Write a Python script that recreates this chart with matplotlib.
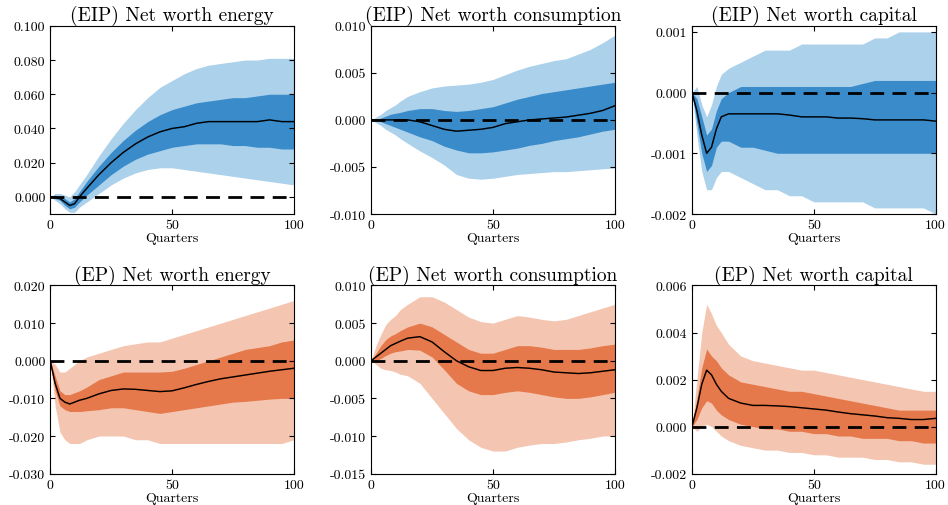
import matplotlib
matplotlib.use("Agg")
import matplotlib.pyplot as plt

plt.rcParams['font.family'] = 'serif'
plt.rcParams['font.serif'] = ['cmr10', 'DejaVu Serif']
plt.rcParams['mathtext.fontset'] = 'cm'
plt.rcParams['axes.unicode_minus'] = False

x = [0,2,4,6,8,10,12,15,20,25,30,35,40,45,50,55,60,65,70,75,80,85,90,95,100]

titles = ["(EIP) Net worth energy", "(EIP) Net worth consumption", "(EIP) Net worth capital",
          "(EP) Net worth energy", "(EP) Net worth consumption", "(EP) Net worth capital"]

p1_med = [0,0,-0.001,-0.003,-0.005,-0.004,0,0.005,0.013,0.02,0.026,0.031,0.035,0.038,0.040,0.041,0.043,0.044,0.044,0.044,0.044,0.044,0.045,0.044,0.044]
p1_ilo = [0,-0.001,-0.002,-0.005,-0.007,-0.006,-0.003,0.001,0.007,0.013,0.018,0.022,0.025,0.027,0.029,0.030,0.031,0.031,0.031,0.030,0.030,0.029,0.029,0.028,0.028]
p1_ihi = [0,0.001,0,-0.001,-0.003,-0.001,0.003,0.009,0.018,0.026,0.033,0.039,0.044,0.048,0.051,0.053,0.055,0.056,0.057,0.058,0.058,0.059,0.060,0.060,0.060]
p1_olo = [0,-0.002,-0.004,-0.007,-0.009,-0.009,-0.006,-0.003,0.002,0.007,0.011,0.014,0.016,0.017,0.017,0.016,0.015,0.014,0.013,0.012,0.011,0.010,0.009,0.008,0.007]
p1_ohi = [0,0.002,0.002,0.001,0,0.003,0.007,0.013,0.024,0.034,0.043,0.051,0.058,0.064,0.068,0.072,0.075,0.077,0.078,0.079,0.080,0.080,0.081,0.081,0.081]

p2_med = [0,0,0,0,0,0,0,0,-0.0002,-0.0006,-0.001,-0.0012,-0.0011,-0.001,-0.0008,-0.0004,-0.0002,0,0.0001,0.0002,0.0003,0.0005,0.0007,0.001,0.0015]
p2_ilo = [0,0,-0.0002,-0.0004,-0.0006,-0.0008,-0.001,-0.0013,-0.0018,-0.0022,-0.0028,-0.0032,-0.0035,-0.0035,-0.0034,-0.0032,-0.003,-0.0027,-0.0025,-0.0022,-0.002,-0.0018,-0.0015,-0.0012,-0.001]
p2_ihi = [0,0,0.0002,0.0004,0.0006,0.0007,0.0008,0.001,0.0012,0.0012,0.001,0.0009,0.001,0.0012,0.0014,0.0018,0.0022,0.0025,0.0028,0.003,0.0032,0.0034,0.0036,0.0038,0.004]
p2_olo = [0,-0.0003,-0.0006,-0.001,-0.0013,-0.0016,-0.002,-0.0025,-0.0033,-0.004,-0.0048,-0.0058,-0.0062,-0.0063,-0.0062,-0.006,-0.0058,-0.0057,-0.0056,-0.0055,-0.0055,-0.0054,-0.0053,-0.0052,-0.0051]
p2_ohi = [0,0.0003,0.0006,0.001,0.0013,0.0016,0.002,0.0025,0.003,0.0034,0.0036,0.0037,0.0038,0.004,0.0043,0.0048,0.0053,0.0057,0.006,0.0063,0.0065,0.007,0.0075,0.0082,0.009]

p3_med = [0,-0.0003,-0.0007,-0.001,-0.0009,-0.0006,-0.0004,-0.00035,-0.00035,-0.00035,-0.00035,-0.00035,-0.00037,-0.0004,-0.0004,-0.0004,-0.00042,-0.00042,-0.00043,-0.00045,-0.00045,-0.00045,-0.00045,-0.00045,-0.00047]
p3_ilo = [0,-0.0005,-0.001,-0.0013,-0.0012,-0.0009,-0.0008,-0.0008,-0.0009,-0.0009,-0.00095,-0.001,-0.001,-0.001,-0.001,-0.001,-0.001,-0.001,-0.001,-0.001,-0.001,-0.001,-0.001,-0.001,-0.001]
p3_ihi = [0,-0.0001,-0.0004,-0.0007,-0.0006,-0.0003,-0.0001,0,0.0001,0.0001,0.0001,0.0001,0.0001,0.0001,0.0001,0.0001,0.0001,0.0001,0.00015,0.0002,0.0002,0.0002,0.0002,0.0002,0.0002]
p3_olo = [0,-0.0007,-0.0013,-0.0016,-0.0016,-0.0014,-0.0013,-0.0013,-0.0014,-0.0015,-0.0016,-0.0016,-0.0017,-0.0017,-0.0018,-0.0018,-0.0018,-0.0018,-0.0018,-0.0019,-0.0019,-0.0019,-0.0019,-0.0019,-0.002]
p3_ohi = [0,0.0001,-0.0002,-0.0004,-0.0002,0.0001,0.0003,0.0004,0.0005,0.0006,0.0007,0.0007,0.0007,0.0008,0.0008,0.0008,0.0008,0.0008,0.0008,0.0009,0.0009,0.001,0.001,0.001,0.001]

p4_med = [0,-0.006,-0.01,-0.011,-0.0115,-0.011,-0.0105,-0.01,-0.0088,-0.0079,-0.0075,-0.0076,-0.0079,-0.0082,-0.008,-0.0072,-0.0063,-0.0055,-0.0048,-0.0043,-0.0038,-0.0033,-0.0028,-0.0024,-0.002]
p4_ilo = [0,-0.008,-0.012,-0.013,-0.0135,-0.0135,-0.0135,-0.0133,-0.013,-0.0125,-0.0125,-0.013,-0.0135,-0.014,-0.0135,-0.013,-0.0125,-0.012,-0.0115,-0.011,-0.0108,-0.0105,-0.0102,-0.01,-0.01]
p4_ihi = [0,-0.004,-0.008,-0.009,-0.009,-0.0085,-0.008,-0.007,-0.005,-0.004,-0.003,-0.003,-0.003,-0.003,-0.0028,-0.002,-0.001,0,0.001,0.002,0.003,0.0035,0.004,0.005,0.0055]
p4_olo = [0,-0.012,-0.019,-0.021,-0.022,-0.022,-0.022,-0.021,-0.02,-0.02,-0.02,-0.021,-0.021,-0.022,-0.022,-0.022,-0.022,-0.022,-0.022,-0.022,-0.022,-0.022,-0.022,-0.022,-0.021]
p4_ohi = [0,-0.001,-0.003,-0.003,-0.002,-0.001,0,0.001,0.002,0.003,0.004,0.0045,0.005,0.005,0.006,0.007,0.008,0.009,0.01,0.011,0.012,0.013,0.014,0.015,0.016]

p5_med = [0,0.0005,0.001,0.0015,0.002,0.0023,0.0026,0.003,0.0032,0.0025,0.0012,0,-0.0008,-0.0013,-0.0013,-0.001,-0.0009,-0.001,-0.0012,-0.0015,-0.0016,-0.0017,-0.0016,-0.0014,-0.0012]
p5_ilo = [0,0,0.0003,0.0007,0.001,0.0012,0.0013,0.0015,0.0014,0.0005,-0.0012,-0.003,-0.004,-0.0045,-0.0045,-0.0042,-0.004,-0.0042,-0.0045,-0.0048,-0.005,-0.005,-0.0048,-0.0045,-0.0042]
p5_ihi = [0,0.001,0.002,0.0028,0.0033,0.0036,0.004,0.0045,0.005,0.0045,0.0035,0.0025,0.0015,0.001,0.001,0.0015,0.002,0.002,0.0018,0.0015,0.0015,0.0015,0.0017,0.002,0.0022]
p5_olo = [0,-0.0005,-0.001,-0.0012,-0.0013,-0.0015,-0.0018,-0.002,-0.003,-0.005,-0.007,-0.009,-0.0105,-0.0115,-0.012,-0.012,-0.0115,-0.0112,-0.011,-0.011,-0.0108,-0.0105,-0.0103,-0.01,-0.01]
p5_ohi = [0,0.002,0.0035,0.0048,0.0055,0.006,0.0068,0.0075,0.0085,0.0085,0.0078,0.0068,0.0058,0.0052,0.005,0.0055,0.006,0.0058,0.0055,0.0053,0.0055,0.006,0.0065,0.007,0.0075]

p6_med = [0,0.0008,0.0018,0.0024,0.0022,0.0018,0.0015,0.0012,0.001,0.0009,0.0009,0.00088,0.00085,0.0008,0.00075,0.0007,0.00062,0.00055,0.0005,0.00045,0.00038,0.00035,0.0003,0.0003,0.00035]
p6_ilo = [0,0.0003,0.0008,0.0011,0.001,0.0007,0.0005,0.0003,0.0001,0,-0.0001,-0.0001,-0.0002,-0.0002,-0.0003,-0.0003,-0.0004,-0.0004,-0.0005,-0.0005,-0.0005,-0.0006,-0.0006,-0.0007,-0.0007]
p6_ihi = [0,0.0012,0.0025,0.0033,0.003,0.0028,0.0025,0.0022,0.0019,0.0018,0.0017,0.0016,0.0015,0.0015,0.0014,0.0013,0.0012,0.0011,0.001,0.0009,0.0008,0.0007,0.0007,0.0007,0.0007]
p6_olo = [0,-0.0002,0,0.0001,0,-0.0002,-0.0004,-0.0006,-0.0008,-0.0009,-0.001,-0.001,-0.0011,-0.0011,-0.0012,-0.0012,-0.0013,-0.0013,-0.0013,-0.0014,-0.0014,-0.0015,-0.0015,-0.0016,-0.0016]
p6_ohi = [0,0.002,0.004,0.0052,0.0048,0.0043,0.004,0.0035,0.003,0.0028,0.0027,0.0026,0.0025,0.0024,0.0024,0.0023,0.0022,0.0021,0.002,0.0019,0.0018,0.0017,0.0016,0.0015,0.0015]

yticks = [
    [0.0, 0.02, 0.04, 0.06, 0.08, 0.10],
    [-0.01, -0.005, 0.0, 0.005, 0.01],
    [-0.002, -0.001, 0.0, 0.001],
    [-0.03, -0.02, -0.01, 0.0, 0.01, 0.02],
    [-0.015, -0.01, -0.005, 0.0, 0.005, 0.01],
    [-0.002, 0.0, 0.002, 0.004, 0.006],
]
ylims = [(-0.01, 0.1), (-0.01, 0.01), (-0.002, 0.0011), (-0.03, 0.02), (-0.015, 0.01), (-0.002, 0.006)]

panels = [
    (p1_med, p1_ilo, p1_ihi, p1_olo, p1_ohi),
    (p2_med, p2_ilo, p2_ihi, p2_olo, p2_ohi),
    (p3_med, p3_ilo, p3_ihi, p3_olo, p3_ohi),
    (p4_med, p4_ilo, p4_ihi, p4_olo, p4_ohi),
    (p5_med, p5_ilo, p5_ihi, p5_olo, p5_ohi),
    (p6_med, p6_ilo, p6_ihi, p6_olo, p6_ohi),
]

blue = ("#abd1eb", "#3a8bc9", "#1f6fb0")
orange = ("#f4c6b1", "#e5794b", "#d45a25")

fig, axes = plt.subplots(2, 3, figsize=(9.48, 5.06), dpi=100)
plt.subplots_adjust(left=0.053, right=0.987, top=0.947, bottom=0.062, wspace=0.317, hspace=0.38)

for i, ax in enumerate(axes.flat):
    med, ilo, ihi, olo, ohi = panels[i]
    c = blue if i < 3 else orange
    ax.fill_between(x, olo, ohi, color=c[0], lw=0)
    ax.fill_between(x, ilo, ihi, color=c[1], lw=0)
    ax.plot(x, med, color=c[2], lw=1.0)
    ax.plot(x, med, color="black", lw=1.0)
    ax.axhline(0, color="black", lw=2, ls=(0, (5, 3)))
    ax.set_xlim(0, 100)
    ax.set_ylim(*ylims[i])
    ax.set_xticks([0, 50, 100])
    ax.set_yticks(yticks[i])
    ax.set_yticklabels(["%.3f" % v for v in yticks[i]])
    ax.tick_params(direction="in", top=True, right=True, labelsize=10)
    ax.set_title(titles[i], fontsize=14, pad=4)
    ax.set_xlabel("Quarters", fontsize=10, labelpad=1)

fig.savefig("out.png", dpi=100)
